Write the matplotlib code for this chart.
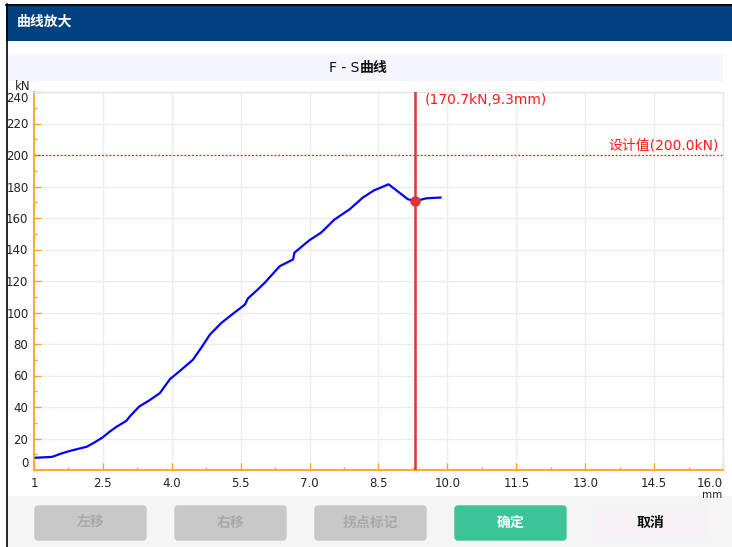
import matplotlib
matplotlib.use("Agg")
import matplotlib.pyplot as plt
from matplotlib.patches import Rectangle, FancyBboxPatch
import numpy as np

plt.rcParams['font.family'] = ['DejaVu Sans', 'Noto Sans CJK SC']

# ---- data ----
disp_mm = [1.04, 1.39, 1.60, 1.78, 2.15, 2.30, 2.49, 2.65, 2.80, 3.01, 3.10, 3.29,
           3.50, 3.74, 3.96, 4.20, 4.46, 4.65, 4.83, 5.08, 5.30, 5.59, 5.66,
           5.85, 6.02, 6.35, 6.64, 6.67, 7.00, 7.25, 7.54, 7.87, 8.16, 8.40,
           8.72, 9.14, 9.30, 9.54, 9.85]
force_kn = [7.8, 8.3, 10.5, 12.1, 14.8, 17.2, 20.6, 24.4, 27.5, 31.2, 34.5, 40.3,
            44.0, 48.8, 57.7, 63.5, 70.0, 78.0, 86.0, 93.4, 98.5, 105.0, 109.0,
            114.0, 118.8, 129.4, 133.7, 138.0, 146.0, 150.7, 159.0, 165.5, 173.0, 177.5,
            181.4, 171.9, 170.7, 172.5, 173.0]
x_ticks = [1, 2.5, 4.0, 5.5, 7.0, 8.5, 10.0, 11.5, 13.0, 14.5, 16.0]
x_tick_labels = ["1", "2.5", "4.0", "5.5", "7.0", "8.5", "10.0", "11.5", "13.0", "14.5", "16.0"]
y_ticks = [0, 20, 40, 60, 80, 100, 120, 140, 160, 180, 200, 220, 240]
marker_x, marker_y = 9.3, 170.7
design_value = 200.0
buttons = ["左移", "右移", "拐点标记", "确定", "取消"]

W, H = 732, 547
fig = plt.figure(figsize=(W / 100, H / 100), dpi=100)
fig.patch.set_facecolor("white")

# chrome layer in pixel coordinates
bg = fig.add_axes([0, 0, 1, 1])
bg.set_xlim(0, W)
bg.set_ylim(H, 0)
bg.axis("off")

cjk = ['Noto Sans CJK SC', 'DejaVu Sans']
latin_first = ['DejaVu Sans', 'Noto Sans CJK SC']

bg.add_patch(Rectangle((6, 4), W - 6, 37, facecolor="#01417F", edgecolor="none"))
bg.plot([6, W], [4.5, 4.5], color="black", lw=1.2)
bg.plot([6.5, 6.5], [4, H], color="black", lw=1.2)
bg.text(17, 22, "曲线放大", color="white", fontsize=10, fontweight="bold",
        family=cjk, va="center", ha="left")

bg.add_patch(Rectangle((7, 54), 716, 27, facecolor="#F5F6FD", edgecolor="none"))
bg.text(359, 68, "F - S", color="#111111", fontsize=10,
        family=latin_first, va="center", ha="right")
bg.text(360, 68, "曲线", color="#111111", fontsize=10, fontweight="bold",
        family=cjk, va="center", ha="left")

bg.add_patch(Rectangle((7, 496), W - 7, H - 496, facecolor="#F5F5F5", edgecolor="none"))
btn_x = [34, 174, 314, 454, 594]
btn_face = ["#C8C8C8", "#C8C8C8", "#C8C8C8", "#3CC397", "#F6F2F6"]
btn_text = ["#A9A9A9", "#A9A9A9", "#A9A9A9", "white", "#111111"]
for bx, lab, fc, tc in zip(btn_x, buttons, btn_face, btn_text):
    bg.add_patch(FancyBboxPatch((bx + 1, 506), 111, 34,
                                boxstyle="round,pad=0,rounding_size=3",
                                facecolor=fc, edgecolor=fc, lw=1))
    bg.text(bx + 56.5, 523, lab, color=tc, fontsize=10, fontweight="bold",
            family=cjk, va="center", ha="center")

# ---- plot ----
orange = "#FFA51F"
ax = fig.add_axes([34 / W, 1 - 470 / H, (723 - 34) / W, (470 - 92) / H])
ax.set_xlim(1, 16)
ax.set_ylim(0, 240)
ax.set_facecolor("white")

ax.set_xticks(x_ticks)
ax.set_xticklabels(x_tick_labels)
ax.set_xticks(np.arange(1.75, 16, 1.5), minor=True)
ax.set_yticks(y_ticks)
ax.set_yticks(np.arange(10, 240, 20), minor=True)
ax.grid(True, which="major", color="#EDEDED", lw=1)
ax.set_axisbelow(True)

for side in ("left", "bottom"):
    ax.spines[side].set_color(orange)
    ax.spines[side].set_linewidth(1.3)
for side in ("top", "right"):
    ax.spines[side].set_color("#E6E6E6")
    ax.spines[side].set_linewidth(1)

ax.tick_params(which="major", direction="in", length=5, width=1, color=orange,
               labelsize=8.5, labelcolor="#222222")
ax.tick_params(which="minor", direction="in", length=2.2, width=1, color=orange)
ax.tick_params(axis="x", which="major", pad=5)
ax.tick_params(axis="y", which="major", pad=4)

ylabs = ax.get_yticklabels()
ylabs[0].set_va("bottom")
ylabs[-1].set_va("top")
xlabs = ax.get_xticklabels()
xlabs[-1].set_ha("right")

bg.text(30, 87, "kN", fontsize=8.5, color="#222222", ha="right", va="center")
bg.text(722, 495, "mm", fontsize=7.5, color="#222222", ha="right", va="center")

ax.axhline(design_value, color="#FF2020", lw=0.9, ls=(0, (1.5, 1.5)))
ax.plot(disp_mm, force_kn, color="#0000FF", lw=1.6, zorder=3)
ax.axvline(marker_x, color="#D93636", lw=1.8, zorder=4)
ax.plot([marker_x], [marker_y], "o", color="#D93636", ms=6.5, zorder=5)

ax.text(marker_x + 0.2, 235, f"({marker_y:.1f}kN,{marker_x:.1f}mm)", color="#FF1A1A",
        fontsize=10, va="center", ha="left", family=latin_first)
ax.text(15.9, design_value + 6, f"设计值({design_value:.1f}kN)", color="#FF1A1A",
        fontsize=10, va="center", ha="right", family=latin_first)

fig.savefig("out.png", dpi=100, facecolor="white")
